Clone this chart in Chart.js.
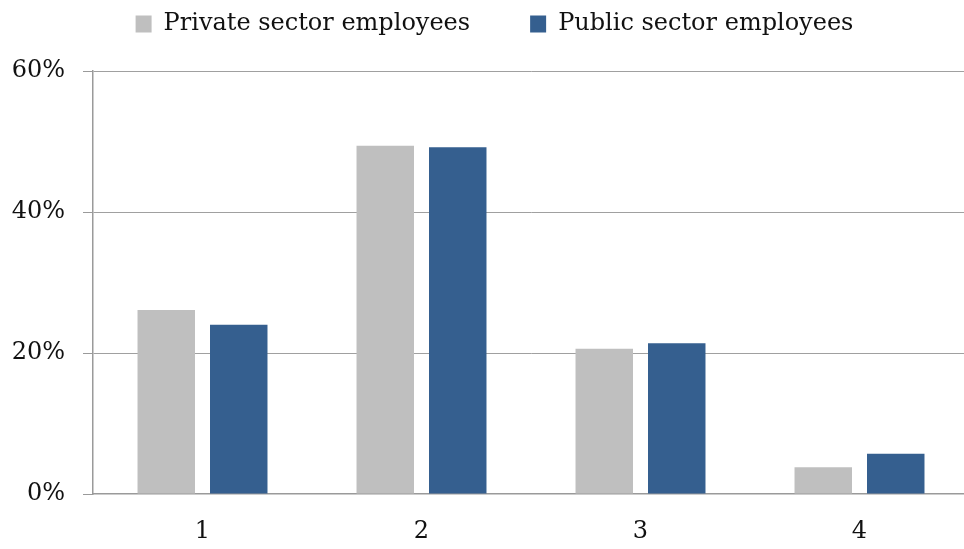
<!DOCTYPE html>
<html>
<head>
<meta charset="utf-8">
<script src="https://cdn.jsdelivr.net/npm/chart.js@4"></script>
<style>
  html, body { margin: 0; padding: 0; background: #fff; overflow: hidden; }
  #wrap { width: 970px; height: 549px; }
</style>
</head>
<body>
<div id="wrap"><canvas id="myChart"></canvas></div>
<script>
// Categories along the x-axis
var groups = ['1', '2', '3', '4'];
// Shares in percent
var privateSector = [26.1, 49.4, 20.6, 3.8];
var publicSector = [24.0, 49.2, 21.4, 5.7];
// y-axis ticks
var yTicks = [0, 20, 40, 60];

var serif = "'DejaVu Serif', 'Liberation Serif', serif";

// reserve room for the legend and nudge it into place
var legendSpace = {
    id: 'legendSpace',
    beforeInit: function (chart) {
        var fit = chart.legend.fit;
        chart.legend.fit = function () {
            fit.bind(chart.legend)();
            this.height = 71;
        };
    },
    afterLayout: function (chart) {
        var lg = chart.legend;
        lg.top -= 48;
        lg.left += 10;
        lg.right += 10;
    }
};

var ctx = document.getElementById("myChart");

var myChart = new Chart(ctx, {
    type: 'bar',
    data: {
        labels: groups,
        datasets: [
            {
                data: privateSector,
                label: 'Private sector employees',
                backgroundColor: "#bfbfbf",
                barPercentage: 0.793,
                categoryPercentage: 0.662
            },
            {
                data: publicSector,
                label: 'Public sector employees',
                backgroundColor: "#355f8f",
                barPercentage: 0.793,
                categoryPercentage: 0.662
            }
        ]
    },
    options: {
        responsive: true,
        maintainAspectRatio: false,
        animation: false,
        layout: { padding: { left: 0, right: 1, top: 0, bottom: 0 } },
        plugins: {
            legend: {
                position: 'top',
                labels: {
                    boxWidth: 16,
                    boxHeight: 17,
                    color: '#111',
                    padding: 60,
                    font: { family: serif, size: 24 }
                }
            },
            tooltip: { enabled: false }
        },
        scales: {
            x: {
                grid: { display: false },
                border: { display: true, color: '#9a9a9a', width: 1.5 },
                ticks: {
                    color: '#111',
                    padding: 15,
                    font: { family: serif, size: 24 }
                },
                afterFit: function (s) { s.height = 55; }
            },
            y: {
                min: 0,
                max: 60,
                afterBuildTicks: function (s) {
                    s.ticks = yTicks.map(function (v) { return { value: v }; });
                },
                grid: {
                    color: function (c) { return c.tick.value === 0 ? 'rgba(0,0,0,0)' : '#a0a0a0'; },
                    borderDash: [1, 1],
                    tickColor: '#9a9a9a',
                    tickBorderDash: [],
                    tickLength: 10,
                    drawTicks: true
                },
                border: { display: true, color: '#9a9a9a', width: 1.5 },
                ticks: {
                    color: '#111',
                    padding: 18,
                    font: { family: serif, size: 24 },
                    callback: function (v) { return v + '%'; }
                },
                afterFit: function (s) { s.width = 93; }
            }
        }
    },
    plugins: [legendSpace]
});
</script>
</body>
</html>
